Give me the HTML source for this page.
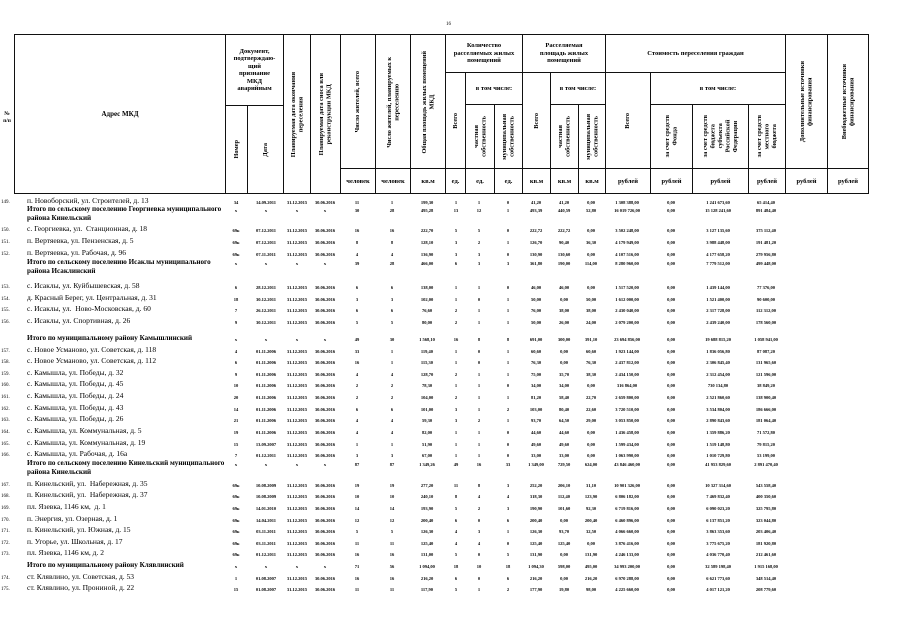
<!DOCTYPE html>
<html><head><meta charset="utf-8"><style>
body{margin:0;background:#fff;width:905px;height:640px;position:relative;overflow:hidden;font-family:"Liberation Serif","DejaVu Serif",serif;color:#000}
.l{position:absolute;background:#111}
.h{position:absolute;font-weight:bold;font-size:6.5px;line-height:7.5px;text-align:center;display:flex;align-items:center;justify-content:center}
.v{position:absolute;font-weight:bold;font-size:6.3px;line-height:7.5px;display:flex;align-items:center;justify-content:center}
.v div{writing-mode:vertical-rl;transform:rotate(180deg);text-align:center}
.u{position:absolute;top:170px;height:22px;font-weight:bold;font-size:6.5px;display:flex;align-items:center;justify-content:center}
.r{position:absolute;left:0;width:905px;height:10px}
.r i{position:absolute;left:1px;top:2px;font-style:normal;font-size:5px}
.r b{position:absolute;left:27px;top:-1px;font-weight:normal;font-size:7.5px;line-height:8.5px;white-space:nowrap}
.r.t b{font-weight:bold;font-size:7.1px}
.r span{position:absolute;top:2px;width:50px;text-align:center;font-size:4.5px;font-weight:bold;white-space:nowrap}
.r span:nth-of-type(1){left:211px}.r span:nth-of-type(2){left:241px}.r span:nth-of-type(3){left:272px}
.r span:nth-of-type(4){left:300px}.r span:nth-of-type(5){left:332px}.r span:nth-of-type(6){left:367px}
.r span:nth-of-type(7){left:402px}.r span:nth-of-type(8){left:431px}.r span:nth-of-type(9){left:454px}
.r span:nth-of-type(10){left:483px}.r span:nth-of-type(11){left:511px}.r span:nth-of-type(12){left:539px}
.r span:nth-of-type(13){left:566px}.r span:nth-of-type(14){left:602px}.r span:nth-of-type(15){left:646px}
.r span:nth-of-type(16){left:693px}.r span:nth-of-type(17){left:741px}
</style></head><body>
<div style="position:absolute;left:446px;top:22px;font-size:5px">16</div>
<div class="l" style="left:14px;top:34px;width:855px;height:1px"></div>
<div class="l" style="left:14px;top:193px;width:855px;height:1px"></div>
<div class="l" style="left:340px;top:168px;width:528px;height:1px"></div>
<div class="l" style="left:225px;top:105px;width:58px;height:1px"></div>
<div class="l" style="left:445px;top:72px;width:340px;height:1px"></div>
<div class="l" style="left:465px;top:104px;width:57px;height:1px"></div>
<div class="l" style="left:550px;top:104px;width:55px;height:1px"></div>
<div class="l" style="left:650px;top:104px;width:135px;height:1px"></div>
<div class="l" style="left:14px;top:34px;width:1px;height:160px"></div>
<div class="l" style="left:225px;top:34px;width:1px;height:160px"></div>
<div class="l" style="left:283px;top:34px;width:1px;height:160px"></div>
<div class="l" style="left:310px;top:34px;width:1px;height:160px"></div>
<div class="l" style="left:340px;top:34px;width:1px;height:160px"></div>
<div class="l" style="left:375px;top:34px;width:1px;height:160px"></div>
<div class="l" style="left:410px;top:34px;width:1px;height:160px"></div>
<div class="l" style="left:445px;top:34px;width:1px;height:160px"></div>
<div class="l" style="left:522px;top:34px;width:1px;height:160px"></div>
<div class="l" style="left:605px;top:34px;width:1px;height:160px"></div>
<div class="l" style="left:785px;top:34px;width:1px;height:160px"></div>
<div class="l" style="left:827px;top:34px;width:1px;height:160px"></div>
<div class="l" style="left:868px;top:34px;width:1px;height:160px"></div>
<div class="l" style="left:247px;top:105px;width:1px;height:89px"></div>
<div class="l" style="left:465px;top:72px;width:1px;height:122px"></div>
<div class="l" style="left:494px;top:104px;width:1px;height:90px"></div>
<div class="l" style="left:550px;top:72px;width:1px;height:122px"></div>
<div class="l" style="left:578px;top:104px;width:1px;height:90px"></div>
<div class="l" style="left:650px;top:72px;width:1px;height:122px"></div>
<div class="l" style="left:692px;top:104px;width:1px;height:90px"></div>
<div class="l" style="left:748px;top:104px;width:1px;height:90px"></div>
<div class="h" style="left:0;top:108px;width:14px;height:20px;font-size:5.5px">№<br>п/п</div>
<div class="h" style="left:15px;top:100px;width:210px;height:30px;font-size:7px">Адрес МКД</div>
<div class="h" style="left:226px;top:36px;width:57px;height:68px">Документ,<br>подтверждаю-<br>щий<br>признание<br>МКД<br>аварийным</div>
<div class="v" style="left:226px;top:106px;width:21px;height:87px"><div>Номер</div></div>
<div class="v" style="left:248px;top:106px;width:35px;height:87px"><div>Дата</div></div>
<div class="v" style="left:284px;top:36px;width:26px;height:157px"><div>Планируемая дата окончания<br>переселения</div></div>
<div class="v" style="left:311px;top:36px;width:29px;height:157px"><div>Планируемая дата сноса или<br>реконструкции МКД</div></div>
<div class="v" style="left:341px;top:36px;width:34px;height:132px"><div>Число жителей, всего</div></div>
<div class="v" style="left:376px;top:36px;width:34px;height:132px"><div>Число жителей, планируемых к<br>переселению</div></div>
<div class="v" style="left:411px;top:36px;width:34px;height:132px"><div>Общая площадь жилых помещений<br>МКД</div></div>
<div class="h" style="left:446px;top:35px;width:76px;height:37px">Количество<br>расселяемых жилых<br>помещений</div>
<div class="h" style="left:523px;top:35px;width:82px;height:37px">Расселяемая<br>площадь жилых<br>помещений</div>
<div class="h" style="left:606px;top:35px;width:179px;height:37px">Стоимость переселения граждан</div>
<div class="h" style="left:466px;top:73px;width:56px;height:31px">в том числе:</div>
<div class="h" style="left:551px;top:73px;width:54px;height:31px">в том числе:</div>
<div class="h" style="left:651px;top:73px;width:134px;height:31px">в том числе:</div>
<div class="v" style="left:446px;top:73px;width:19px;height:95px"><div>Всего</div></div>
<div class="v" style="left:466px;top:105px;width:28px;height:63px"><div>частная<br>собственность</div></div>
<div class="v" style="left:495px;top:105px;width:27px;height:63px"><div>муниципальная<br>собственность</div></div>
<div class="v" style="left:523px;top:73px;width:27px;height:95px"><div>Всего</div></div>
<div class="v" style="left:551px;top:105px;width:27px;height:63px"><div>частная<br>собственность</div></div>
<div class="v" style="left:579px;top:105px;width:26px;height:63px"><div>муниципальная<br>собственность</div></div>
<div class="v" style="left:606px;top:73px;width:44px;height:95px"><div>Всего</div></div>
<div class="v" style="left:651px;top:105px;width:41px;height:63px"><div>за счет средств<br>Фонда</div></div>
<div class="v" style="left:693px;top:105px;width:55px;height:63px"><div>за счет средств<br>бюджета<br>субъекта<br>Российской<br>Федерации</div></div>
<div class="v" style="left:749px;top:105px;width:36px;height:63px"><div>за счет средств<br>местного<br>бюджета</div></div>
<div class="v" style="left:786px;top:36px;width:41px;height:132px"><div>Дополнительные источники<br>финансирования</div></div>
<div class="v" style="left:828px;top:36px;width:40px;height:132px"><div>Внебюджетные источники<br>финансирования</div></div>
<div class="u" style="left:341px;width:34px">человек</div>
<div class="u" style="left:376px;width:34px">человек</div>
<div class="u" style="left:411px;width:34px">кв.м</div>
<div class="u" style="left:446px;width:19px">ед.</div>
<div class="u" style="left:466px;width:28px">ед.</div>
<div class="u" style="left:495px;width:27px">ед.</div>
<div class="u" style="left:523px;width:27px">кв.м</div>
<div class="u" style="left:551px;width:27px">кв.м</div>
<div class="u" style="left:579px;width:26px">кв.м</div>
<div class="u" style="left:606px;width:44px">рублей</div>
<div class="u" style="left:651px;width:41px">рублей</div>
<div class="u" style="left:693px;width:55px">рублей</div>
<div class="u" style="left:749px;width:36px">рублей</div>
<div class="u" style="left:786px;width:41px">рублей</div>
<div class="u" style="left:828px;width:40px">рублей</div>

<div class="r" style="top:198px"><i>149.</i><b>п. Новоборский, ул. Строителей, д. 13</b><span>34</span><span>14.09.2011</span><span>31.12.2015</span><span>30.06.2016</span><span>11</span><span>1</span><span>199,30</span><span>1</span><span>1</span><span>0</span><span>41,20</span><span>41,20</span><span>0,00</span><span>1 308 388,00</span><span>0,00</span><span>1 241 673,60</span><span>65 414,40</span></div>
<div class="r t" style="top:206px"><b>Итого по сельскому поселению Георгиевка муниципального<br>района Кинельский</b><span>x</span><span>x</span><span>x</span><span>x</span><span>30</span><span>28</span><span>495,28</span><span>13</span><span>12</span><span>1</span><span>493,39</span><span>440,59</span><span>52,80</span><span>16 019 726,00</span><span>0,00</span><span>15 128 241,60</span><span>891 484,40</span></div>
<div class="r" style="top:226px"><i>150.</i><b>с. Георгиевка, ул.&nbsp; Станционная, д. 18</b><span>69к</span><span>07.12.2011</span><span>31.12.2015</span><span>30.06.2016</span><span>16</span><span>16</span><span>222,70</span><span>5</span><span>5</span><span>0</span><span>222,72</span><span>222,72</span><span>0,00</span><span>3 502 248,00</span><span>0,00</span><span>3 127 135,60</span><span>375 112,40</span></div>
<div class="r" style="top:238px"><i>151.</i><b>п. Вертяевка, ул. Пензенская, д. 5</b><span>69к</span><span>07.12.2011</span><span>31.12.2015</span><span>30.06.2016</span><span>8</span><span>8</span><span>128,10</span><span>3</span><span>2</span><span>1</span><span>126,70</span><span>90,40</span><span>36,30</span><span>4 179 949,00</span><span>0,00</span><span>3 988 448,00</span><span>191 481,20</span></div>
<div class="r" style="top:250px"><i>152.</i><b>п. Вертяевка, ул. Рабочая, д. 96</b><span>69к</span><span>07.11.2011</span><span>31.12.2015</span><span>30.06.2016</span><span>4</span><span>4</span><span>136,90</span><span>3</span><span>3</span><span>0</span><span>130,90</span><span>130,60</span><span>0,00</span><span>4 107 516,00</span><span>0,00</span><span>4 177 658,20</span><span>279 956,80</span></div>
<div class="r t" style="top:259px"><b>Итого по сельскому поселению Исаклы муниципального<br>района Исаклинский</b><span>x</span><span>x</span><span>x</span><span>x</span><span>39</span><span>28</span><span>466,00</span><span>6</span><span>3</span><span>3</span><span>361,80</span><span>190,00</span><span>114,00</span><span>8 280 960,00</span><span>0,00</span><span>7 779 512,00</span><span>499 448,00</span></div>
<div class="r" style="top:283px"><i>153.</i><b>с. Исаклы, ул. Куйбышевская, д. 58</b><span>6</span><span>28.12.2011</span><span>31.12.2015</span><span>30.06.2016</span><span>6</span><span>6</span><span>138,00</span><span>1</span><span>1</span><span>0</span><span>46,00</span><span>46,00</span><span>0,00</span><span>1 517 520,00</span><span>0,00</span><span>1 439 144,00</span><span>77 376,00</span></div>
<div class="r" style="top:295px"><i>154.</i><b>д. Красный Берег, ул. Центральная, д. 31</b><span>18</span><span>30.12.2011</span><span>31.12.2015</span><span>30.06.2016</span><span>3</span><span>3</span><span>102,00</span><span>1</span><span>0</span><span>1</span><span>50,00</span><span>0,00</span><span>50,00</span><span>1 612 000,00</span><span>0,00</span><span>1 521 400,00</span><span>90 600,00</span></div>
<div class="r" style="top:306px"><i>155.</i><b>с. Исаклы, ул.&nbsp; Ново-Московская, д. 60</b><span>7</span><span>26.12.2011</span><span>31.12.2015</span><span>30.06.2016</span><span>6</span><span>6</span><span>76,60</span><span>2</span><span>1</span><span>1</span><span>76,00</span><span>38,00</span><span>38,00</span><span>2 430 040,00</span><span>0,00</span><span>2 317 728,00</span><span>112 312,00</span></div>
<div class="r" style="top:318px"><i>156.</i><b>с. Исаклы, ул. Спортивная, д. 26</b><span>9</span><span>30.12.2011</span><span>31.12.2015</span><span>30.06.2016</span><span>5</span><span>5</span><span>80,00</span><span>2</span><span>1</span><span>1</span><span>50,00</span><span>26,00</span><span>24,00</span><span>2 079 200,00</span><span>0,00</span><span>2 439 240,00</span><span>178 560,00</span></div>
<div class="r t" style="top:335px"><b>Итого по муниципальному району Камышлинский</b><span>x</span><span>x</span><span>x</span><span>x</span><span>49</span><span>30</span><span>1 568,10</span><span>16</span><span>8</span><span>8</span><span>691,00</span><span>300,00</span><span>391,10</span><span>23 694 856,00</span><span>0,00</span><span>19 688 815,20</span><span>1 058 941,00</span></div>
<div class="r" style="top:347px"><i>157.</i><b>с. Новое Усманово, ул. Советская, д. 118</b><span>4</span><span>01.11.2006</span><span>31.12.2015</span><span>30.06.2016</span><span>33</span><span>1</span><span>119,40</span><span>1</span><span>0</span><span>1</span><span>60,60</span><span>0,00</span><span>60,60</span><span>1 923 144,00</span><span>0,00</span><span>1 836 056,80</span><span>87 087,20</span></div>
<div class="r" style="top:358px"><i>158.</i><b>с. Новое Усманово, ул. Советская, д. 112</b><span>6</span><span>01.11.2006</span><span>31.12.2015</span><span>30.06.2016</span><span>16</span><span>1</span><span>115,30</span><span>1</span><span>0</span><span>1</span><span>76,30</span><span>0,00</span><span>76,30</span><span>2 437 812,00</span><span>0,00</span><span>2 306 845,40</span><span>131 965,60</span></div>
<div class="r" style="top:370px"><i>159.</i><b>с. Камышла, ул. Победы, д. 32</b><span>9</span><span>01.11.2006</span><span>31.12.2015</span><span>30.06.2016</span><span>4</span><span>4</span><span>128,70</span><span>2</span><span>1</span><span>1</span><span>75,00</span><span>35,70</span><span>38,30</span><span>2 434 150,00</span><span>0,00</span><span>2 312 454,00</span><span>121 596,00</span></div>
<div class="r" style="top:381px"><i>160.</i><b>с. Камышла, ул. Победы, д. 45</b><span>10</span><span>01.11.2006</span><span>31.12.2015</span><span>30.06.2016</span><span>2</span><span>2</span><span>78,30</span><span>1</span><span>1</span><span>0</span><span>34,00</span><span>34,00</span><span>0,00</span><span>316 864,00</span><span>0,00</span><span>730 134,80</span><span>38 849,20</span></div>
<div class="r" style="top:393px"><i>161.</i><b>с. Камышла, ул. Победы, д. 24</b><span>20</span><span>01.11.2006</span><span>31.12.2015</span><span>30.06.2016</span><span>2</span><span>2</span><span>104,00</span><span>2</span><span>1</span><span>1</span><span>81,20</span><span>58,40</span><span>22,70</span><span>2 659 800,00</span><span>0,00</span><span>2 521 860,60</span><span>138 900,40</span></div>
<div class="r" style="top:405px"><i>162.</i><b>с. Камышла, ул. Победы, д. 43</b><span>14</span><span>01.11.2006</span><span>31.12.2015</span><span>30.06.2016</span><span>6</span><span>6</span><span>101,00</span><span>3</span><span>1</span><span>2</span><span>103,00</span><span>80,40</span><span>22,60</span><span>3 720 510,00</span><span>0,00</span><span>3 534 804,00</span><span>186 666,00</span></div>
<div class="r" style="top:416px"><i>163.</i><b>с. Камышла, ул. Победы, д. 26</b><span>21</span><span>01.11.2006</span><span>31.12.2015</span><span>30.06.2016</span><span>4</span><span>4</span><span>59,30</span><span>3</span><span>2</span><span>1</span><span>93,70</span><span>64,50</span><span>29,00</span><span>3 053 850,00</span><span>0,00</span><span>2 890 843,60</span><span>181 064,40</span></div>
<div class="r" style="top:428px"><i>164.</i><b>с. Камышла, ул. Коммунальная, д. 5</b><span>19</span><span>01.11.2006</span><span>31.12.2015</span><span>30.06.2016</span><span>4</span><span>4</span><span>82,00</span><span>1</span><span>1</span><span>0</span><span>44,60</span><span>44,60</span><span>0,00</span><span>1 436 458,00</span><span>0,00</span><span>1 359 886,20</span><span>71 572,80</span></div>
<div class="r" style="top:440px"><i>165.</i><b>с. Камышла, ул. Коммунальная, д. 19</b><span>15</span><span>13.09.2007</span><span>31.12.2015</span><span>30.06.2016</span><span>1</span><span>1</span><span>51,90</span><span>1</span><span>1</span><span>0</span><span>49,60</span><span>49,60</span><span>0,00</span><span>1 599 434,00</span><span>0,00</span><span>1 519 148,80</span><span>79 815,20</span></div>
<div class="r" style="top:451px"><i>166.</i><b>с. Камышла, ул. Рабочая, д. 16а</b><span>7</span><span>01.12.2011</span><span>31.12.2015</span><span>30.06.2016</span><span>3</span><span>3</span><span>67,00</span><span>1</span><span>1</span><span>0</span><span>33,00</span><span>33,00</span><span>0,00</span><span>1 063 990,00</span><span>0,00</span><span>1 010 729,80</span><span>53 199,00</span></div>
<div class="r t" style="top:460px"><b>Итого по сельскому поселению Кинельский муниципального<br>района Кинельский</b><span>x</span><span>x</span><span>x</span><span>x</span><span>87</span><span>87</span><span>1 349,26</span><span>49</span><span>16</span><span>33</span><span>1 349,00</span><span>729,50</span><span>624,00</span><span>43 846 460,00</span><span>0,00</span><span>41 953 829,60</span><span>2 891 470,40</span></div>
<div class="r" style="top:481px"><i>167.</i><b>п. Кинельский, ул.&nbsp; Набережная, д. 35</b><span>69к</span><span>10.08.2009</span><span>31.12.2015</span><span>30.06.2016</span><span>19</span><span>19</span><span>277,20</span><span>11</span><span>8</span><span>3</span><span>252,20</span><span>206,10</span><span>31,10</span><span>10 901 326,00</span><span>0,00</span><span>10 327 314,60</span><span>543 558,40</span></div>
<div class="r" style="top:492px"><i>168.</i><b>п. Кинельский, ул.&nbsp; Набережная, д. 37</b><span>69к</span><span>10.08.2009</span><span>31.12.2015</span><span>30.06.2016</span><span>10</span><span>10</span><span>240,10</span><span>8</span><span>4</span><span>4</span><span>318,30</span><span>112,40</span><span>123,90</span><span>6 806 182,00</span><span>0,00</span><span>7 469 832,40</span><span>400 350,60</span></div>
<div class="r" style="top:504px"><i>169.</i><b>пл. Язевка, 1146 км,&nbsp; д. 1</b><span>69к</span><span>14.01.2010</span><span>31.12.2015</span><span>30.06.2016</span><span>14</span><span>14</span><span>193,90</span><span>5</span><span>2</span><span>3</span><span>190,90</span><span>101,60</span><span>92,30</span><span>6 719 816,00</span><span>0,00</span><span>6 090 023,20</span><span>325 795,80</span></div>
<div class="r" style="top:516px"><i>170.</i><b>п. Энергия, ул. Озерная, д. 1</b><span>69к</span><span>14.04.2011</span><span>31.12.2015</span><span>30.06.2016</span><span>12</span><span>12</span><span>200,40</span><span>6</span><span>0</span><span>6</span><span>200,40</span><span>0,00</span><span>200,40</span><span>6 460 896,00</span><span>0,00</span><span>6 137 851,20</span><span>323 044,80</span></div>
<div class="r" style="top:527px"><i>171.</i><b>п. Кинельский, ул. Южная, д. 15</b><span>69к</span><span>03.11.2011</span><span>31.12.2015</span><span>30.06.2016</span><span>5</span><span>5</span><span>126,30</span><span>4</span><span>3</span><span>1</span><span>126,30</span><span>93,70</span><span>32,50</span><span>4 066 660,00</span><span>0,00</span><span>3 863 353,60</span><span>203 406,40</span></div>
<div class="r" style="top:539px"><i>172.</i><b>п. Угорье, ул. Школьная, д. 17</b><span>69к</span><span>03.11.2011</span><span>31.12.2015</span><span>30.06.2016</span><span>11</span><span>11</span><span>125,40</span><span>4</span><span>4</span><span>0</span><span>125,40</span><span>125,40</span><span>0,00</span><span>3 876 416,00</span><span>0,00</span><span>3 775 675,20</span><span>181 920,80</span></div>
<div class="r" style="top:550px"><i>173.</i><b>пл. Язевка, 1146 км, д. 2</b><span>69к</span><span>01.12.2011</span><span>31.12.2015</span><span>30.06.2016</span><span>16</span><span>16</span><span>131,00</span><span>5</span><span>0</span><span>5</span><span>131,90</span><span>0,00</span><span>131,90</span><span>4 246 133,00</span><span>0,00</span><span>4 036 770,40</span><span>212 461,60</span></div>
<div class="r t" style="top:562px"><b>Итого по муниципальному району Клявлинский</b><span>x</span><span>x</span><span>x</span><span>x</span><span>71</span><span>56</span><span>1 094,00</span><span>18</span><span>10</span><span>18</span><span>1 094,30</span><span>598,00</span><span>495,00</span><span>34 993 200,00</span><span>0,00</span><span>32 589 198,40</span><span>1 915 168,00</span></div>
<div class="r" style="top:574px"><i>174.</i><b>ст. Клявлино, ул. Советская, д. 53</b><span>1</span><span>01.08.2007</span><span>31.12.2015</span><span>30.06.2016</span><span>16</span><span>16</span><span>216,20</span><span>6</span><span>0</span><span>6</span><span>216,20</span><span>0,00</span><span>216,20</span><span>6 970 288,00</span><span>0,00</span><span>6 621 773,60</span><span>348 514,40</span></div>
<div class="r" style="top:585px"><i>175.</i><b>ст. Клявлино, ул. Прониной, д. 22</b><span>15</span><span>01.08.2007</span><span>31.12.2015</span><span>30.06.2016</span><span>11</span><span>11</span><span>117,90</span><span>5</span><span>1</span><span>2</span><span>177,90</span><span>19,80</span><span>98,00</span><span>4 225 660,00</span><span>0,00</span><span>4 017 121,20</span><span>208 779,60</span></div>
</body></html>
